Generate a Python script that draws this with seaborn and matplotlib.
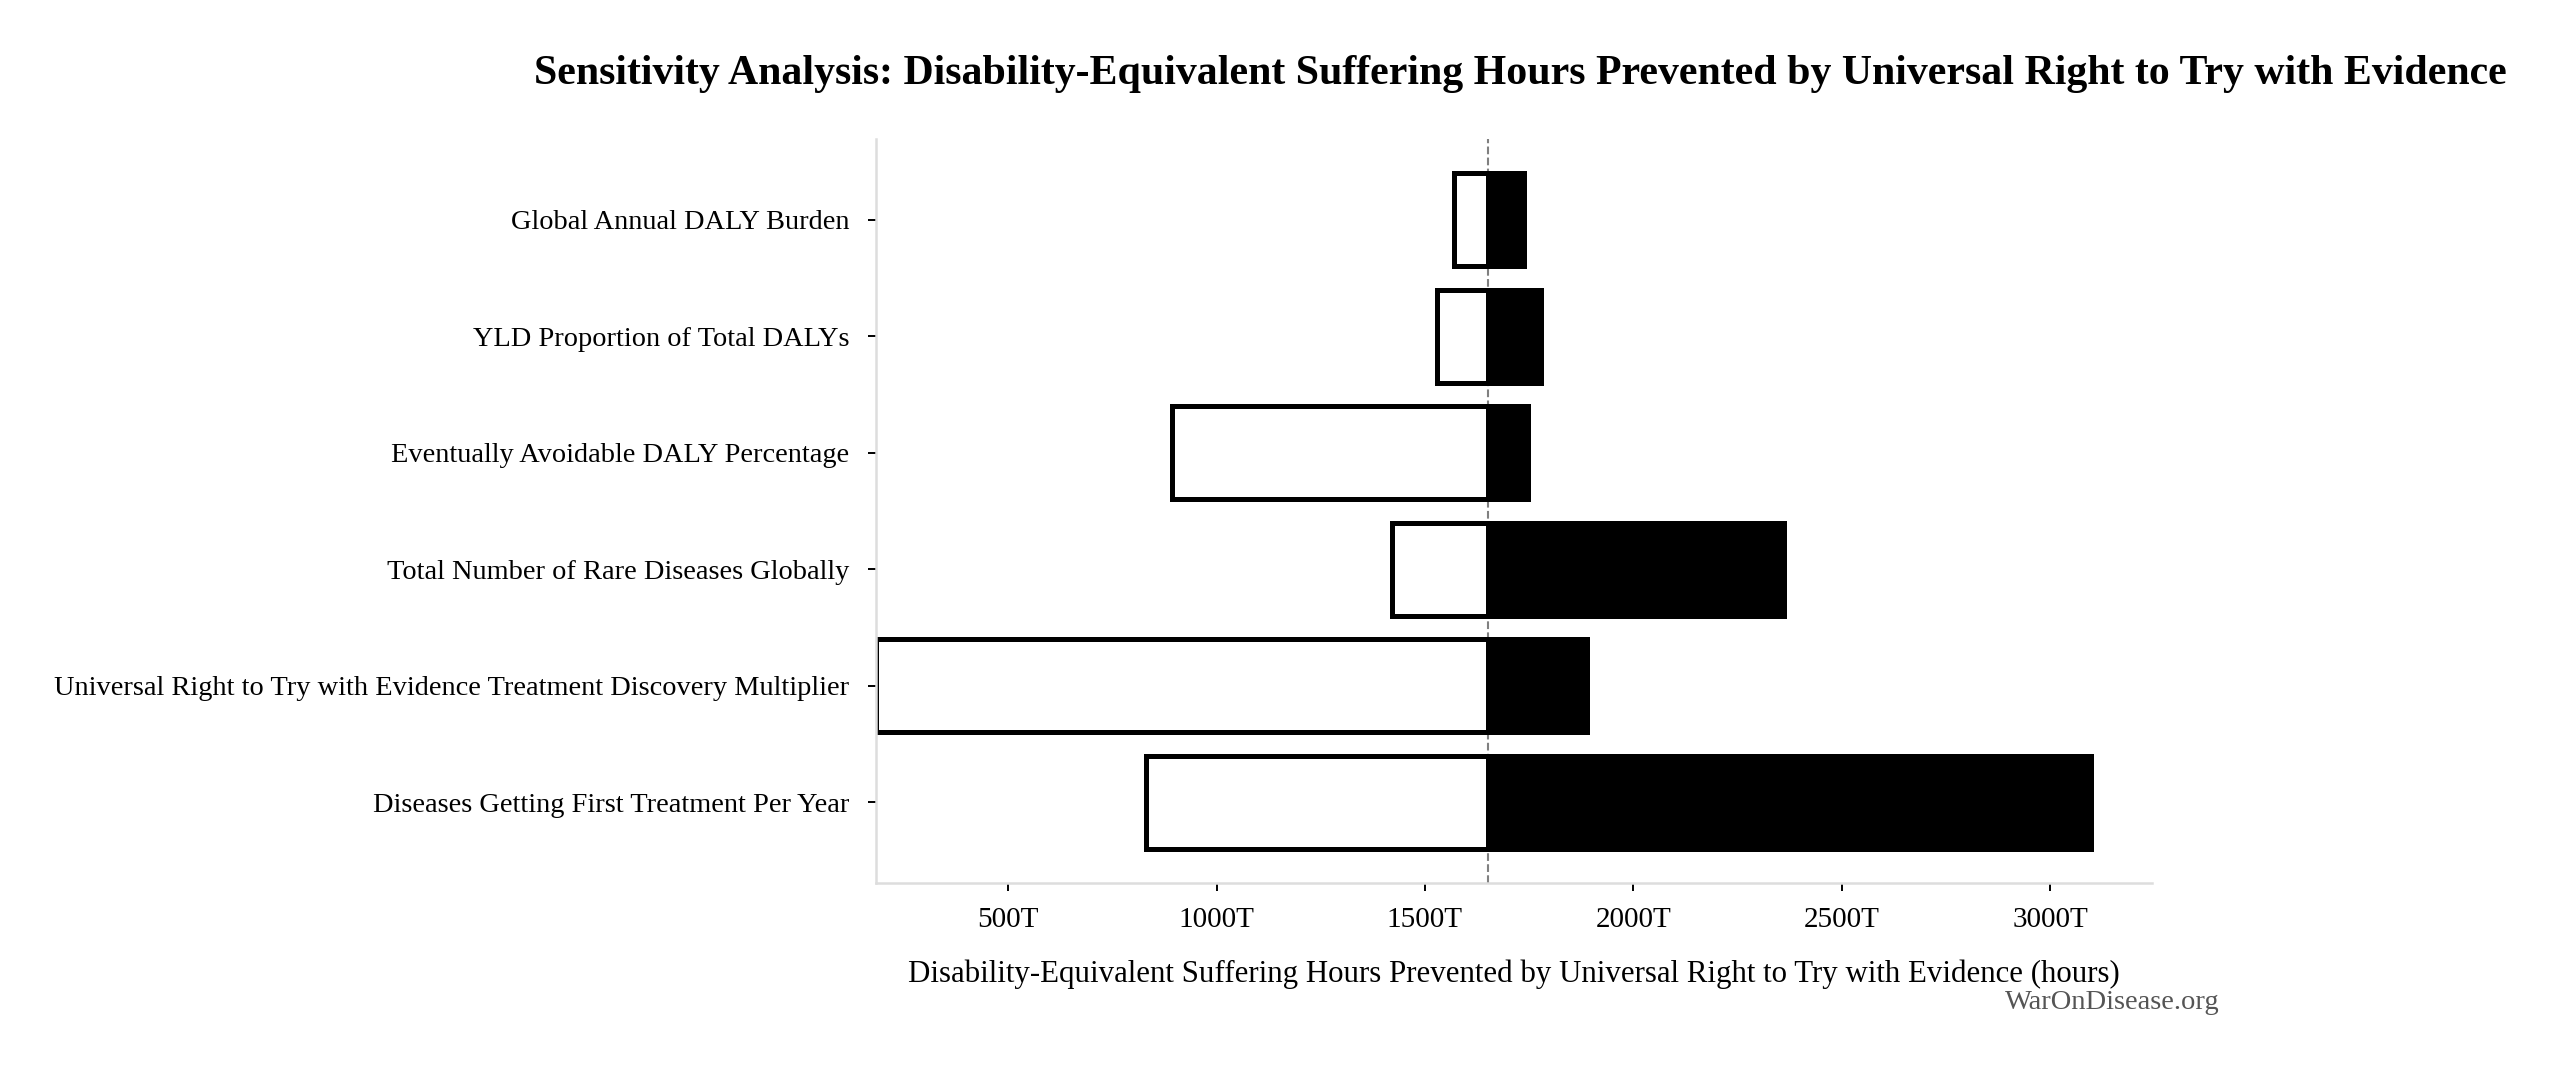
import pandas as pd
import matplotlib.pyplot as plt
import seaborn as sns
from matplotlib.ticker import FuncFormatter, MultipleLocator

sns.set_style("white")
plt.rcParams["font.family"] = ["Liberation Serif", "DejaVu Serif"]
plt.rcParams["text.color"] = "black"
plt.rcParams["axes.labelcolor"] = "black"
plt.rcParams["xtick.color"] = "black"
plt.rcParams["ytick.color"] = "black"

# parameter names, top to bottom
parameters = [
    "Global Annual DALY Burden",
    "YLD Proportion of Total DALYs",
    "Eventually Avoidable DALY Percentage",
    "Total Number of Rare Diseases Globally",
    "Universal Right to Try with Evidence Treatment Discovery Multiplier",
    "Diseases Getting First Treatment Per Year",
]

# outcome in trillions of hours at the low / high end of each input
low_values = [1570, 1529, 894, 1421, 183.3, 830]
high_values = [1738, 1779, 1748, 2362, 1889, 3099]
baseline = 1652

title = ("Sensitivity Analysis: Disability-Equivalent Suffering Hours "
         "Prevented by Universal Right to Try with Evidence")
x_label = ("Disability-Equivalent Suffering Hours Prevented by "
           "Universal Right to Try with Evidence (hours)")

df = pd.DataFrame({
    "parameter": parameters,
    "low": low_values,
    "high": high_values,
})
df["low_width"] = baseline - df["low"]
df["high_width"] = df["high"] - baseline

fig = plt.figure(figsize=(25.62, 10.71), dpi=100)
ax = fig.add_axes([0.342, 0.176, 0.498, 0.694])

# dashed baseline behind the bars
ax.axvline(baseline, color="#808080", linestyle="--", linewidth=1.5, zorder=0)

sns.barplot(
    data=df, y="parameter", x="low_width", order=parameters,
    left=df["low"].values, color="white", saturation=1,
    edgecolor="black", linewidth=3.6, width=0.8, errorbar=None,
    orient="y", ax=ax, zorder=2,
)
sns.barplot(
    data=df, y="parameter", x="high_width", order=parameters,
    left=[baseline] * len(df), color="black", saturation=1,
    edgecolor="black", linewidth=3.6, width=0.8, errorbar=None,
    orient="y", ax=ax, zorder=2,
)

ax.set_xlim(183.3, 3245)
ax.set_ylim(len(parameters) - 1 + 0.69, -0.69)

ax.xaxis.set_major_locator(MultipleLocator(500))
ax.xaxis.set_major_formatter(FuncFormatter(lambda v, pos: f"{v:.0f}T"))

ax.set_ylabel("")
ax.set_xlabel(x_label, fontsize=22.2, labelpad=19)
ax.tick_params(axis="x", labelsize=21, pad=12)
ax.tick_params(axis="y", labelsize=20.4, pad=14)
ax.tick_params(axis="both", length=5.5, width=1.4, color="black",
               bottom=True, left=True)

sns.despine(ax=ax)
for side in ["left", "bottom"]:
    ax.spines[side].set_color("#dddddd")
    ax.spines[side].set_linewidth(1.8)

fig.text(0.5935, 0.931, title, ha="center", va="center",
         fontsize=30.2, fontweight="bold")
fig.text(0.8665, 0.0635, "WarOnDisease.org", ha="right", va="center",
         fontsize=20.5, color="#555555")

fig.savefig("out.png", dpi=100)
